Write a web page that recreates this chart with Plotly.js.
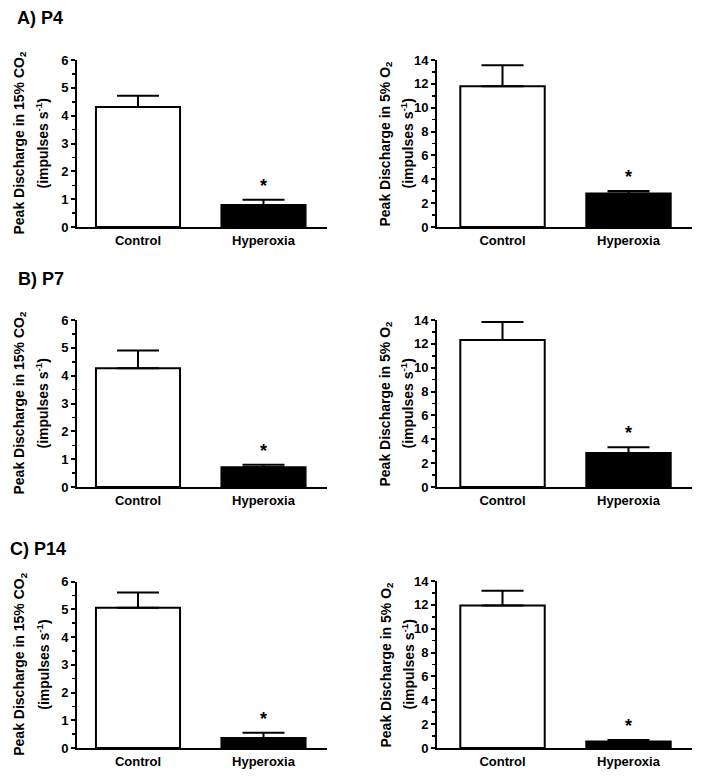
<!DOCTYPE html>
<html>
<head>
<meta charset="utf-8">
<script src="https://cdn.plot.ly/plotly-3.0.1.min.js"></script>
<style>html,body{margin:0;padding:0;background:#fff;}#chart{width:701px;height:778px;}</style>
</head>
<body>
<div id="chart"></div>
<script>
// ---- data ----
const categories = ['Control', 'Hyperoxia'];
const significance = ['', '*'];
const panelTitles = ['A) P4', 'B) P7', 'C) P14'];
const co2Title = 'Peak Discharge in 15% CO<sub>2</sub>';
const o2Title = 'Peak Discharge in 5% O<sub>2</sub>';
const unitTitle = '(impulses s<sup>-1</sup>)';

const p4_co2_mean = [4.31, 0.79];
const p4_co2_sem = [0.41, 0.19];
const p4_o2_mean = [11.79, 2.80];
const p4_o2_sem = [1.76, 0.22];

const p7_co2_mean = [4.27, 0.71];
const p7_co2_sem = [0.63, 0.09];
const p7_o2_mean = [12.32, 2.86];
const p7_o2_sem = [1.51, 0.47];

const p14_co2_mean = [5.05, 0.36];
const p14_co2_sem = [0.55, 0.19];
const p14_o2_mean = [11.94, 0.55];
const p14_o2_sem = [1.25, 0.13];

const co2Ticks = [0, 1, 2, 3, 4, 5, 6];
const o2Ticks = [0, 2, 4, 6, 8, 10, 12, 14];

// ---- layout helpers ----
const W = 701, H = 778;
const FONT = 'Liberation Sans, Arial, Helvetica, sans-serif';
const panels = [
  {mean: p4_co2_mean, sem: p4_co2_sem, ticks: co2Ticks, minor: 0.5, title: co2Title, col: 0, top: 60, bottom: 227},
  {mean: p4_o2_mean, sem: p4_o2_sem, ticks: o2Ticks, minor: 1, title: o2Title, col: 1, top: 60, bottom: 227},
  {mean: p7_co2_mean, sem: p7_co2_sem, ticks: co2Ticks, minor: 0.5, title: co2Title, col: 0, top: 320, bottom: 487},
  {mean: p7_o2_mean, sem: p7_o2_sem, ticks: o2Ticks, minor: 1, title: o2Title, col: 1, top: 320, bottom: 487},
  {mean: p14_co2_mean, sem: p14_co2_sem, ticks: co2Ticks, minor: 0.5, title: co2Title, col: 0, top: 581.5, bottom: 748},
  {mean: p14_o2_mean, sem: p14_o2_sem, ticks: o2Ticks, minor: 1, title: o2Title, col: 1, top: 581, bottom: 748}
];
const cols = [
  {left: 77, right: 327, xr: [-0.486, 1.506], t1: 20, t2: 43},
  {left: 437, right: 692, xr: [-0.52, 1.504], t1: 386, t2: 408}
];
const titlePos = [{x: 15, y: 17.5}, {x: 16, y: 279}, {x: 8, y: 549}];

const traces = [];
const layout = {
  width: W, height: H,
  margin: {l: 0, r: 0, t: 0, b: 0},
  paper_bgcolor: '#fff', plot_bgcolor: '#fff',
  showlegend: false,
  font: {family: FONT, size: 13, color: '#000'},
  annotations: []
};

panels.forEach((p, i) => {
  const n = i + 1;
  const sx = n === 1 ? '' : String(n);
  const c = cols[p.col];
  traces.push({
    type: 'bar',
    x: categories,
    y: p.mean,
    xaxis: 'x' + sx, yaxis: 'y' + sx,
    width: 0.67,
    marker: {color: ['#ffffff', '#000000'], line: {color: '#000', width: 2}},
    error_y: {type: 'data', symmetric: false, array: p.sem, arrayminus: [0, 0],
              color: '#000', thickness: 2, width: 21},
    hoverinfo: 'none'
  });
  layout['xaxis' + sx] = {
    domain: [c.left / W, c.right / W],
    anchor: 'y' + sx,
    type: 'category',
    range: c.xr,
    showline: true, linecolor: '#000', linewidth: 2,
    ticks: '', showgrid: false, zeroline: false,
    tickfont: {family: FONT, size: 13, weight: 'bold', color: '#000'},
    fixedrange: true
  };
  layout['yaxis' + sx] = {
    domain: [(H - p.bottom) / H, (H - p.top) / H],
    anchor: 'x' + sx,
    range: [0, p.ticks[p.ticks.length - 1]],
    tickvals: p.ticks,
    showline: true, linecolor: '#000', linewidth: 2,
    ticks: 'outside', ticklen: 4, tickwidth: 2, tickcolor: '#000',
    minor: {dtick: p.minor, tick0: 0, ticks: 'outside', ticklen: 3, tickwidth: 1.5, tickcolor: '#000'},
    showgrid: false, zeroline: false,
    tickfont: {family: FONT, size: 13, weight: 'bold', color: '#000'},
    fixedrange: true
  };
  const yc = (H - (p.top + p.bottom) / 2) / H;
  layout.annotations.push({
    xref: 'paper', yref: 'paper', x: c.t1 / W, y: yc, xanchor: 'center', yanchor: 'middle',
    text: p.title, textangle: -90, showarrow: false,
    font: {family: FONT, size: 14, weight: 'bold', color: '#000'}
  });
  layout.annotations.push({
    xref: 'paper', yref: 'paper', x: c.t2 / W, y: yc, xanchor: 'center', yanchor: 'middle',
    text: unitTitle, textangle: -90, showarrow: false,
    font: {family: FONT, size: 14, weight: 'bold', color: '#000'}
  });
  categories.forEach((cat, k) => {
    if (significance[k]) {
      layout.annotations.push({
        xref: 'x' + sx, yref: 'y' + sx, x: cat, y: p.mean[k] + p.sem[k],
        xanchor: 'center', yanchor: 'bottom', yshift: 2,
        text: significance[k], showarrow: false,
        font: {family: FONT, size: 18, weight: 'bold', color: '#000'}
      });
    }
  });
});

panelTitles.forEach((t, i) => {
  layout.annotations.push({
    xref: 'paper', yref: 'paper', x: titlePos[i].x / W, y: 1 - titlePos[i].y / H,
    xanchor: 'left', yanchor: 'middle', text: t, showarrow: false,
    font: {family: FONT, size: 18, weight: 'bold', color: '#000'}
  });
});

Plotly.newPlot('chart', traces, layout, {displayModeBar: false, staticPlot: true});
</script>
</body>
</html>
